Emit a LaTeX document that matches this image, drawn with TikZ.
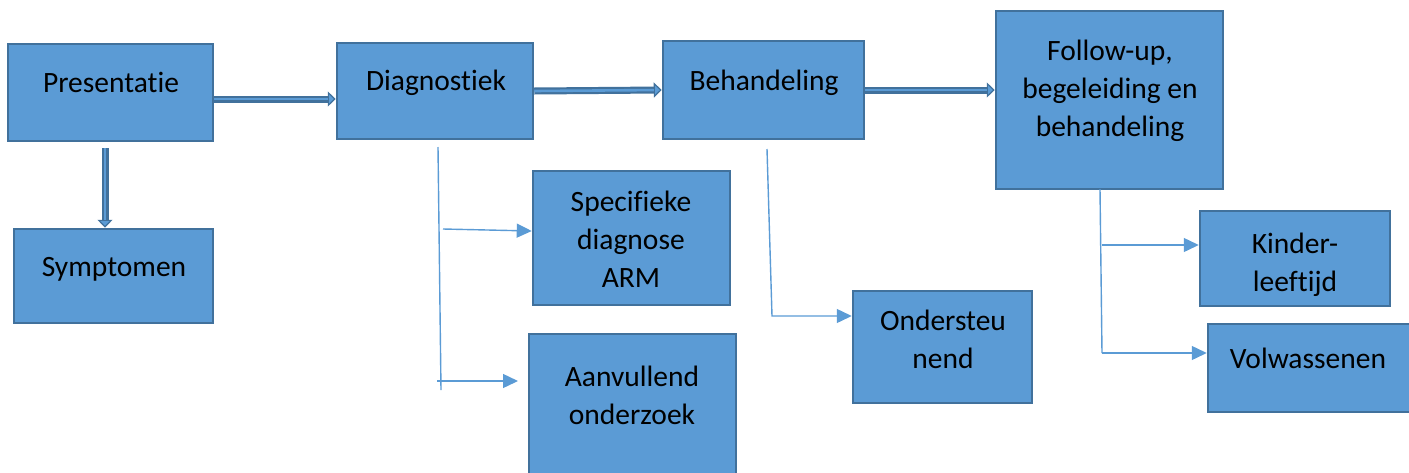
\documentclass[tikz,border=0pt]{standalone}
\usepackage{fontspec}
\setmainfont{Carlito}[Ligatures=NoCommon]
\usetikzlibrary{arrows.meta}
\definecolor{boxfill}{HTML}{5B9BD5}
\definecolor{boxline}{HTML}{41719C}
\definecolor{thinline}{HTML}{5B9BD5}
\begin{document}
\begin{tikzpicture}[x=1pt,y=-1pt,
  box/.style={draw=boxline, fill=boxfill, line width=2.5pt, inner sep=0pt},
  txt/.style={inner sep=0pt, anchor=base, font=\fontsize{29.5pt}{38pt}\selectfont},
  bigshaft/.style={draw=boxline, line width=7pt,
    -{Triangle[length=8pt, width=15pt, line width=1.2pt, fill=boxfill]}},
  biginner/.style={draw=boxfill, line width=2.6pt, shorten >=8pt},
  thinarrow/.style={draw=thinline, line width=1.4pt,
    -{Triangle[length=15pt, width=14pt]}},
  thinrule/.style={draw=thinline, line width=1.4pt}]
\useasboundingbox (0,0) rectangle (1409,472);

% boxes
\node[box, minimum width=205pt, minimum height=97pt]  (pres) at (110.5,92.5) {};
\node[box, minimum width=199pt, minimum height=94pt]  (symp) at (113.5,276) {};
\node[box, minimum width=196pt, minimum height=96pt]  (diag) at (435,91) {};
\node[box, minimum width=201pt, minimum height=98pt]  (beh)  at (763.5,90) {};
\node[box, minimum width=227pt, minimum height=178pt] (foll) at (1109.5,100) {};
\node[box, minimum width=197pt, minimum height=134pt] (spec) at (631.5,238) {};
\node[box, minimum width=207pt, minimum height=151pt] (aanv) at (632.5,409.5) {};
\node[box, minimum width=179pt, minimum height=112pt] (onde) at (942.5,347) {};
\node[box, minimum width=190pt, minimum height=95pt]  (kind) at (1295,258.5) {};
\node[box, minimum width=212pt, minimum height=88pt]  (volw) at (1314,368) {};

% texts (anchored on the baseline of their first line)
\newcommand{\lines}[1]{\begin{tabular}[t]{@{}c@{}}#1\end{tabular}}
\node[txt] (presT) at (111,92)  {Presentatie};
\node[txt] (sympT) at (114,276) {Symptomen};
\node[txt] (diagT) at (436,90)  {Diagnostiek};
\node[txt] (behT)  at (764,90)  {Behandeling};
\node[txt] (follT) at (1110,60) {\lines{Follow-up,\\begeleiding en\\behandeling}};
\node[txt] (specT) at (631,211) {\lines{Specifieke\\diagnose\\ARM}};
\node[txt] (aanvT) at (632,386) {\lines{Aanvullend\\onderzoek}};
\node[txt] (ondeT) at (943,330) {\lines{Ondersteu\\nend}};
\node[txt] (kindT) at (1295,253) {\lines{Kinder-\\leeftijd}};
\node[txt] (volwT) at (1308,368) {Volwassenen};

% block arrows between the main stages
\draw[bigshaft]  ([yshift=-6.5pt]pres.east) -- ([yshift=-8pt]diag.west);
\draw[biginner]  ([yshift=-6.5pt]pres.east) -- ([yshift=-8pt]diag.west);
\draw[bigshaft]  (diag.east) -- (beh.west);
\draw[biginner]  (diag.east) -- (beh.west);
\draw[bigshaft]  (beh.east) -- (foll.west |- beh.east);
\draw[biginner]  (beh.east) -- (foll.west |- beh.east);
\draw[bigshaft]  ([shift={(-5.5pt,-6pt)}]pres.south) -- ([xshift=-8.5pt]symp.north);
\draw[biginner]  ([shift={(-5.5pt,-6pt)}]pres.south) -- ([xshift=-8.5pt]symp.north);

% branches under Diagnostiek
\coordinate (dTop) at (438,147);
\coordinate (dBot) at (441,390);
\coordinate (dA)   at (443,229);
\coordinate (dB)   at (437,381);
\coordinate (dBend) at (518,381);
\draw[thinrule]  (dTop) -- (dBot);
\draw[thinarrow] (dA) -- ([yshift=7pt]spec.west);
\draw[thinarrow] (dB) -- (dBend);

% branch under Behandeling
\coordinate (bTop) at (767,149);
\coordinate (bBend) at (772,316);
\draw[thinarrow] (bTop) -- (bBend) -- (onde.west |- bBend);

% branches under Follow-up
\coordinate (fTop) at (1100,189);
\coordinate (fBot) at (1102,353);
\coordinate (fA)   at (1102,245);
\draw[thinrule]  (fTop) -- (fBot);
\draw[thinarrow] (fA) -- (kind.west |- fA);
\draw[thinarrow] (fBot) -- (volw.west |- fBot);
\end{tikzpicture}
\end{document}
